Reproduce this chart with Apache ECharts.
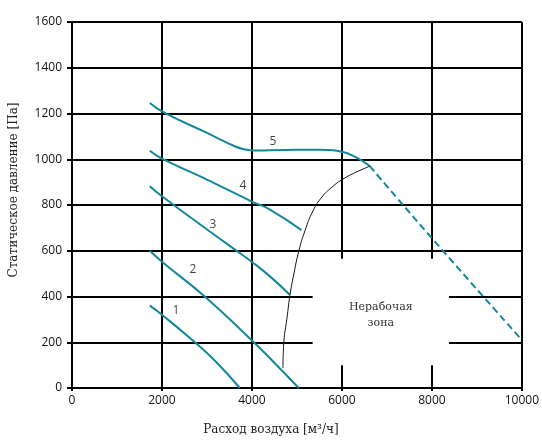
<!DOCTYPE html>
<html>
<head>
<meta charset="utf-8">
<script src="https://cdn.jsdelivr.net/npm/echarts@6/dist/echarts.min.js"></script>
<style>
    html, body { margin: 0; padding: 0; background: #fff; }
    #chart { width: 542px; height: 441px; }
</style>
</head>
<body>
<div id="chart"></div>
<script>
    // кривые вентилятора: [расход, давление]
    var curve1 = [[1730, 360], [2000, 320], [2700, 205], [3200, 115], [3730, 0]];
    var curve2 = [[1730, 600], [2000, 552], [2950, 400], [4000, 208], [4400, 130], [5040, 0]];
    var curve3 = [[1730, 882], [2000, 838], [2850, 715], [3600, 608], [4000, 551], [4400, 488], [4840, 408]];
    var curve4 = [[1730, 1037], [2000, 1003], [2850, 925], [4000, 815], [4400, 780], [5100, 690]];
    var curve5 = [[1730, 1246], [2030, 1206], [2990, 1116], [3300, 1086], [3580, 1060], [3800, 1045],
                  [4050, 1038], [4400, 1039], [5000, 1041], [5500, 1042], [6000, 1033], [6300, 1010], [6620, 970]];
    var curve5dash = [[6620, 970], [8000, 655], [10000, 210]];
    // граница рабочей зоны
    var boundary = [[4689, 87], [4711, 204], [4778, 304], [4844, 404], [4933, 500], [5044, 600], [5178, 687],
                    [5356, 774], [5556, 835], [5778, 878], [6022, 913], [6311, 943], [6622, 970]];
    var curveLabels = [['1', 2311, 339], ['2', 2689, 517], ['3', 3133, 713], ['4', 3800, 887], ['5', 4467, 1078]];
    var zoneX = [5350, 8380];
    var zoneY = [100, 565];

    var teal = '#13889b';
    var dom = echarts.init(document.getElementById('chart'));

    function curve(data, dashed) {
        return {
            type: 'line',
            data: data,
            smooth: 0.5,
            symbol: 'none',
            lineStyle: { color: teal, width: 2, type: dashed ? [7, 4] : 'solid' },
            z: 3,
            silent: true
        };
    }

    var option = {
        animation: false,
        grid: { left: 72, right: 19, top: 22, bottom: 51 },
        xAxis: {
            type: 'value',
            min: 0,
            max: 10000,
            interval: 2000,
            name: 'Расход воздуха [м³/ч]',
            nameLocation: 'middle',
            nameGap: 36,
            nameTextStyle: { fontFamily: 'DejaVu Serif', fontSize: 12, color: '#222', padding: [0, 52, 0, 0] },
            axisLine: { show: true, onZero: false, lineStyle: { color: '#000', width: 2 } },
            axisTick: { show: true, length: 3, lineStyle: { color: '#000', width: 2 } },
            axisLabel: {
                fontFamily: 'Open Sans', fontSize: 12, color: '#111', margin: 7,
                formatter: function (v) { return String(v); }
            },
            splitLine: { show: true, lineStyle: { color: '#000', width: 2 } }
        },
        yAxis: {
            type: 'value',
            min: 0,
            max: 1600,
            interval: 200,
            name: 'Статическое давление [Па]',
            nameLocation: 'middle',
            nameGap: 52,
            nameTextStyle: { fontFamily: 'DejaVu Serif', fontSize: 12, color: '#222', padding: [0, 0, 0, 30] },
            axisLine: { show: true, lineStyle: { color: '#000', width: 2 } },
            axisTick: { show: true, length: 5, lineStyle: { color: '#000', width: 2 } },
            axisLabel: {
                fontFamily: 'Open Sans', fontSize: 12, color: '#111', margin: 10,
                formatter: function (v) { return String(v); }
            },
            splitLine: { show: true, lineStyle: { color: '#000', width: 2 } }
        },
        series: [
            {
                type: 'line',
                data: [],
                silent: true,
                z: 2,
                markArea: {
                    silent: true,
                    itemStyle: { color: '#fff', opacity: 1 },
                    label: {
                        show: true,
                        position: 'inside',
                        formatter: 'Нерабочая\nзона',
                        fontFamily: 'DejaVu Serif',
                        fontSize: 11,
                        lineHeight: 16,
                        color: '#333',
                        offset: [0, 3]
                    },
                    data: [[{ xAxis: zoneX[0], yAxis: zoneY[0] }, { xAxis: zoneX[1], yAxis: zoneY[1] }]]
                }
            },
            curve(curve1),
            curve(curve2),
            curve(curve3),
            curve(curve4),
            curve(curve5),
            curve(curve5dash, true),
            {
                type: 'line',
                data: boundary,
                smooth: 0.5,
                symbol: 'none',
                lineStyle: { color: '#111', width: 1 },
                z: 4,
                silent: true
            },
            {
                type: 'scatter',
                data: curveLabels.map(function (d) { return { name: d[0], value: [d[1], d[2]] }; }),
                symbolSize: 0,
                silent: true,
                z: 5,
                label: {
                    show: true,
                    position: 'inside',
                    formatter: '{b}',
                    fontFamily: 'Open Sans',
                    fontSize: 12,
                    color: '#111'
                }
            }
        ]
    };
    dom.setOption(option);
    window.addEventListener('resize', function () { dom.resize(); });
</script>
</body>
</html>
